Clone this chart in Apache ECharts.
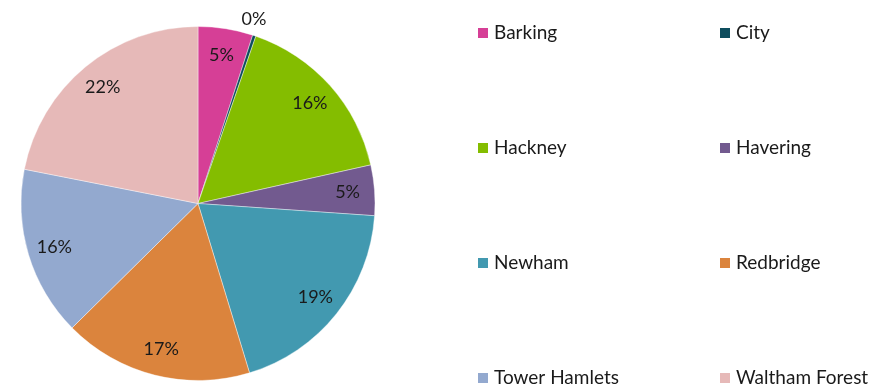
<!DOCTYPE html>
<html>
<head>
<meta charset="utf-8">
<script src="https://cdn.jsdelivr.net/npm/echarts@6/dist/echarts.min.js"></script>
<style>
  html, body { margin: 0; padding: 0; background: #fff; }
  #chart { width: 892px; height: 390px; }
</style>
</head>
<body>
<div id="chart"></div>
<script>
// Share of total by borough (percent)
const boroughs = ['Barking', 'City', 'Hackney', 'Havering', 'Newham', 'Redbridge', 'Tower Hamlets', 'Waltham Forest'];
const shares = [5.0, 0.3, 16.2, 4.6, 19.2, 17.3, 15.5, 21.9];
const colors = ['#D63F96', '#0E4D5E', '#84BD00', '#725A8F', '#4299B0', '#DB843D', '#93A9CF', '#E6B9B8'];

const legendLeft = ['Barking', 'Hackney', 'Newham', 'Tower Hamlets'];
const legendRight = ['City', 'Havering', 'Redbridge', 'Waltham Forest'];

const FONT = 'Lato';
const center = [198, 203.5];

const pieData = boroughs.map((name, i) => ({
  name: name,
  value: shares[i],
  itemStyle: { color: colors[i] }
}));

// the tiny City slice carries its label outside the pie
const labelRing = boroughs.map((name, i) => ({
  name: name,
  value: shares[i],
  label: { show: shares[i] >= 1 }
}));

const legendCommon = {
  orient: 'vertical',
  top: 23,
  height: 367,
  padding: 0,
  itemWidth: 12,
  itemHeight: 12,
  itemGap: 95,
  icon: 'rect',
  selectedMode: false,
  textStyle: { fontFamily: FONT, fontSize: 19, color: '#1a1a1a', lineHeight: 20 }
};

const chart = echarts.init(document.getElementById('chart'), null, { renderer: 'canvas' });
chart.setOption({
  animation: false,
  legend: [
    Object.assign({ left: 476, data: legendLeft }, legendCommon),
    Object.assign({ left: 718, data: legendRight }, legendCommon)
  ],
  series: [
    {
      type: 'pie',
      center: center,
      radius: [0, 177],
      startAngle: 90,
      clockwise: true,
      data: pieData,
      itemStyle: { borderColor: '#ffffff', borderWidth: 0.4 },
      label: {
        show: true,
        position: 'outside',
        formatter: p => p.dataIndex === 1 ? Math.round(p.value) + '%' : '',
        fontFamily: FONT,
        fontSize: 18,
        color: '#1a1a1a'
      },
      labelLine: { show: false, length: 4, length2: 0 },
      labelLayout: p => (p.dataIndex === 1 ? { dx: -19, dy: -13 } : {}),
      emphasis: { disabled: true }
    },
    {
      type: 'pie',
      center: center,
      radius: [117, 177],
      startAngle: 90,
      clockwise: true,
      silent: true,
      legendHoverLink: false,
      data: labelRing,
      itemStyle: { color: 'rgba(0,0,0,0)' },
      label: {
        position: 'inside',
        formatter: p => Math.round(p.value) + '%',
        fontFamily: FONT,
        fontSize: 18,
        color: '#1a1a1a'
      },
      labelLine: { show: false },
      emphasis: { disabled: true },
      tooltip: { show: false }
    }
  ]
});
</script>
</body>
</html>
